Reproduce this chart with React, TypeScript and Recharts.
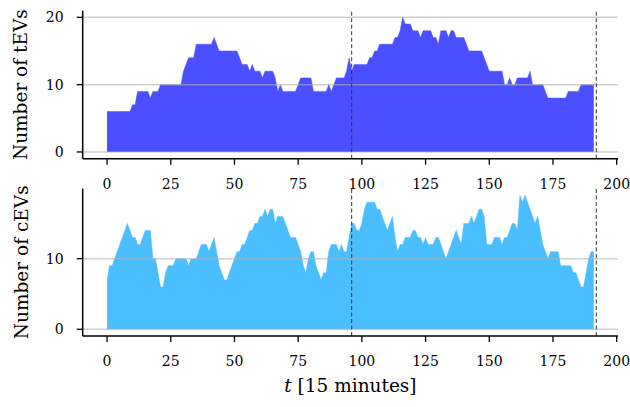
import React from 'react';
import { AreaChart, Area, XAxis, YAxis, ReferenceLine, Label } from 'recharts';

// number of trucks (tEVs) and cars (cEVs) per 15 minute step, two days
const tEVs = [
  6, 6, 6, 6, 6, 6, 6, 6, 6, 6,
  7, 7, 9, 9, 9, 9, 9, 8, 9, 9,
  9, 10, 10, 10, 10, 10, 10, 10, 10, 10,
  12, 13, 14, 14, 14, 16, 16, 16, 16, 16,
  16, 16, 17, 16, 15, 15, 15, 15, 15, 15,
  15, 15, 14, 13, 13, 13, 12, 13, 12, 12,
  12, 11, 12, 12, 12, 12, 11, 9, 10, 9,
  9, 9, 9, 9, 9, 10, 11, 11, 11, 11,
  11, 9, 9, 9, 9, 9, 9, 10, 9, 10,
  11, 11, 11, 11, 12, 14, 12, 13, 13, 13,
  13, 13, 13, 14, 14, 15, 15, 16, 16, 16,
  16, 16, 16, 17, 17, 18, 20, 19, 19, 19,
  18, 18, 18, 17, 18, 18, 18, 18, 17, 17,
  16, 18, 18, 18, 17, 18, 18, 17, 17, 17,
  17, 16, 15, 15, 15, 15, 15, 15, 14, 13,
  12, 12, 12, 12, 12, 12, 10, 10, 11, 10,
  10, 11, 11, 11, 11, 11, 12, 10, 10, 10,
  10, 10, 9, 8, 8, 8, 8, 8, 8, 8,
  8, 9, 9, 9, 9, 9, 10, 10, 10, 10,
  10, 10,
];

const cEVs = [
  7, 9, 9, 10, 11, 12, 13, 14, 15, 14,
  13, 13, 12, 12, 13, 14, 14, 14, 10, 10,
  8, 6, 6, 8, 9, 9, 9, 10, 10, 10,
  10, 10, 9, 10, 10, 10, 11, 12, 12, 12,
  11, 12, 13, 11, 9, 8, 7, 7, 8, 9,
  10, 11, 11, 12, 12, 13, 14, 14, 15, 15,
  16, 16, 17, 16, 17, 17, 15, 16, 16, 16,
  15, 14, 13, 13, 13, 12, 11, 9, 8, 10,
  11, 11, 9, 8, 7, 8, 8, 11, 12, 12,
  12, 11, 12, 11, 11, 13, 15, 15, 14, 14,
  15, 17, 18, 18, 18, 18, 17, 17, 16, 15,
  14, 15, 16, 13, 11, 12, 12, 13, 13, 13,
  14, 14, 13, 13, 12, 13, 12, 12, 12, 13,
  13, 12, 11, 10, 11, 12, 13, 14, 13, 12,
  15, 15, 15, 16, 15, 16, 17, 17, 16, 12,
  12, 12, 13, 13, 13, 12, 13, 13, 14, 15,
  15, 14, 19, 18, 19, 18, 17, 16, 15, 16,
  14, 12, 11, 10, 11, 11, 11, 11, 9, 9,
  9, 9, 9, 8, 8, 7, 6, 6, 8, 10,
  11, 11,
];

const xTicks = [0, 25, 50, 75, 100, 125, 150, 175, 200];
const tevTicks = [0, 10, 20];
const cevTicks = [0, 10];
const dayEnds = [96, 192];

const tevData = tEVs.map((v, i) => ({ t: i, n: v }));
const cevData = cEVs.map((v, i) => ({ t: i, n: v }));

const FONT = '"DejaVu Serif", serif';
const W = 630;
const H = 407;

const yLabel = (text: string) => (props: any) => {
  const vb = props.viewBox || {};
  const cy = (vb.y || 0) + (vb.height || 0) / 2;
  return (
    <text x={27.5} y={cy} transform={`rotate(-90, 27.5, ${cy})`} textAnchor="middle"
      fill="#000" style={{ fontFamily: FONT, fontSize: 18.5 }}>
      {text}
    </text>
  );
};

const xLabel = () => (
  <text x={350.4} y={392} textAnchor="middle" fill="#000" style={{ fontFamily: FONT, fontSize: 18.5 }}>
    <tspan fontStyle="italic">t</tspan> [15 minutes]
  </text>
);

type PanelProps = {
  data: { t: number; n: number }[];
  color: string;
  yDomain: [number, number];
  yTicks: number[];
  label: string;
  margin: { top: number; bottom: number };
  showXLabel?: boolean;
};

const Panel: React.FC<PanelProps> = ({ data, color, yDomain, yTicks, label, margin, showXLabel }) => (
  <div style={{ position: 'absolute', left: 0, top: 0 }}>
    <AreaChart width={W} height={H} data={data}
      margin={{ top: margin.top, bottom: margin.bottom, left: 22.7, right: 11.9 }}>
      <XAxis type="number" dataKey="t" domain={[-9.55, 200.55]} ticks={xTicks} allowDataOverflow
        height={30} tickSize={6} tickMargin={14}
        axisLine={{ stroke: '#000', strokeWidth: 1.5 }} tickLine={{ stroke: '#000', strokeWidth: 1.3 }}
        tick={{ fill: '#000', fontSize: 14, fontFamily: FONT }}>
        {showXLabel ? <Label content={xLabel} /> : null}
      </XAxis>
      <YAxis type="number" domain={yDomain} ticks={yTicks} allowDataOverflow width={60}
        tickSize={6} tickMargin={13}
        axisLine={{ stroke: '#000', strokeWidth: 1.5 }} tickLine={{ stroke: '#000', strokeWidth: 1.3 }}
        tick={{ fill: '#000', fontSize: 14, fontFamily: FONT }}>
        <Label content={yLabel(label)} />
      </YAxis>
      <Area type="linear" dataKey="n" stroke={color} strokeWidth={0.5} fill={color} fillOpacity={1}
        isAnimationActive={false} dot={false} activeDot={false} />
      {yTicks.map((y) => (
        <ReferenceLine key={'g' + y} y={y} stroke="#b0b0b0" strokeOpacity={0.6} strokeWidth={1.5} />
      ))}
      {dayEnds.map((x) => (
        <ReferenceLine key={'d' + x} x={x} stroke="#333" strokeWidth={1} strokeDasharray="4 2.5" />
      ))}
    </AreaChart>
  </div>
);

export default function App() {
  return (
    <div style={{ position: 'absolute', left: 0, top: 0, width: W, height: H, background: '#fff', overflow: 'hidden' }}>
      <Panel data={tevData} color="#4a50ff" yDomain={[-1, 21]} yTicks={tevTicks}
        label="Number of tEVs" margin={{ top: 10.6, bottom: 218.3 }} />
      <Panel data={cevData} color="#4abeff" yDomain={[-0.95, 19.95]} yTicks={cevTicks}
        label="Number of cEVs" margin={{ top: 188.5, bottom: 41 }} showXLabel />
    </div>
  );
}
